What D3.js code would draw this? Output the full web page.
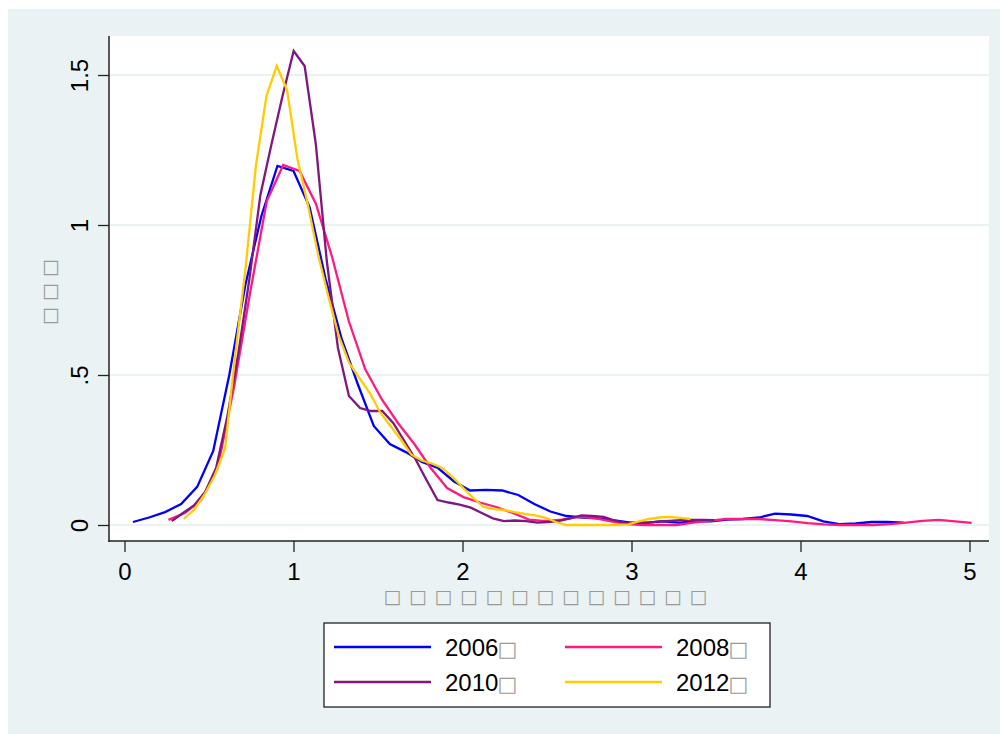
<!DOCTYPE html>
<html>
<head>
<meta charset="utf-8">
<script src="https://cdn.jsdelivr.net/npm/d3@7"></script>
<style>
  html, body { margin: 0; padding: 0; background: #ffffff; }
  svg { display: block; }
  text { font-family: "Liberation Sans", Arial, sans-serif; }
</style>
</head>
<body>
<svg id="chart" width="1006" height="734"></svg>
<script>
// ---- data ----
const xTicks = [0, 1, 2, 3, 4, 5];
const xTickLabels = ["0", "1", "2", "3", "4", "5"];
const yTicks = [0, 0.5, 1, 1.5];
const yTickLabels = ["0", ".5", "1", "1.5"];
const seriesNames = ["2006\u25A1", "2008\u25A1", "2010\u25A1", "2012\u25A1"];
const seriesColors = ["#0000ff", "#ff1a80", "#80167f", "#ffcc00"];
const yTitle = "\u25A1\u25A1\u25A1";
const xTitle = "\u25A1\u25A1\u25A1\u25A1\u25A1\u25A1\u25A1\u25A1\u25A1\u25A1\u25A1\u25A1\u25A1";

const x2006 = [0.05,0.145,0.24,0.335,0.43,0.525,0.62,0.715,0.81,0.905,1.0,1.095,1.19,1.285,1.38,1.475,1.57,1.665,1.76,1.855,1.95,2.045,2.14,2.235,2.33,2.425,2.52,2.615,2.71,2.805,2.9,2.995,3.09,3.185,3.28,3.375,3.47,3.565,3.66,3.755,3.85,3.945,4.04,4.135,4.23,4.325,4.42,4.515,4.61];
const d2006 = [0.01,0.025,0.043,0.07,0.127,0.247,0.50,0.80,1.03,1.197,1.18,1.06,0.82,0.62,0.47,0.33,0.27,0.243,0.21,0.19,0.145,0.115,0.117,0.115,0.10,0.07,0.045,0.03,0.025,0.022,0.015,0.008,0.008,0.012,0.008,0.012,0.012,0.018,0.02,0.025,0.038,0.035,0.03,0.012,0.003,0.005,0.01,0.01,0.008];

const x2008 = [0.26,0.357,0.454,0.551,0.648,0.745,0.842,0.939,1.036,1.133,1.23,1.327,1.424,1.521,1.618,1.715,1.812,1.909,2.006,2.103,2.2,2.297,2.394,2.491,2.588,2.685,2.782,2.879,2.976,3.073,3.17,3.267,3.364,3.461,3.558,3.655,3.752,3.849,3.946,4.043,4.14,4.237,4.334,4.431,4.528,4.625,4.722,4.819,4.916,5.013];
const d2008 = [0.017,0.04,0.083,0.19,0.46,0.78,1.08,1.2,1.18,1.07,0.89,0.68,0.52,0.42,0.34,0.27,0.19,0.123,0.093,0.075,0.06,0.04,0.018,0.013,0.018,0.027,0.023,0.012,0.003,0.0,0.0,0.0,0.008,0.014,0.02,0.02,0.02,0.016,0.012,0.006,0.002,0.0,0.0,0.0,0.003,0.008,0.014,0.017,0.012,0.007];

const x2010 = [0.28,0.346,0.411,0.477,0.542,0.608,0.673,0.739,0.804,0.870,0.935,1.001,1.066,1.132,1.197,1.263,1.328,1.394,1.459,1.525,1.590,1.656,1.721,1.787,1.852,1.918,1.983,2.049,2.114,2.180,2.245,2.311,2.376,2.442,2.507,2.573,2.638,2.704,2.769,2.835,2.900,2.966,3.031,3.097,3.162,3.228,3.293,3.359,3.424,3.490];
const d2010 = [0.013,0.04,0.065,0.11,0.19,0.36,0.57,0.82,1.1,1.27,1.43,1.58,1.53,1.27,0.88,0.59,0.43,0.39,0.38,0.38,0.34,0.28,0.22,0.15,0.083,0.075,0.068,0.058,0.04,0.022,0.013,0.015,0.013,0.008,0.01,0.014,0.022,0.032,0.03,0.027,0.015,0.007,0.007,0.007,0.012,0.014,0.016,0.017,0.017,0.016];

const x2012 = [0.35,0.411,0.472,0.534,0.595,0.656,0.717,0.778,0.840,0.901,0.962,1.023,1.084,1.146,1.207,1.268,1.329,1.390,1.452,1.513,1.574,1.635,1.696,1.758,1.819,1.880,1.941,2.002,2.064,2.125,2.186,2.247,2.308,2.370,2.431,2.492,2.553,2.614,2.676,2.737,2.798,2.859,2.920,2.982,3.043,3.104,3.165,3.226,3.288,3.349];
const d2012 = [0.02,0.05,0.1,0.165,0.255,0.57,0.86,1.2,1.43,1.53,1.45,1.22,1.07,0.9,0.76,0.63,0.54,0.49,0.44,0.375,0.33,0.285,0.235,0.215,0.205,0.19,0.16,0.125,0.09,0.06,0.053,0.05,0.043,0.037,0.032,0.024,0.01,0.0,0.0,0.0,0.0,0.0,0.0,0.002,0.012,0.02,0.025,0.027,0.024,0.02];

const seriesX = [x2006, x2008, x2010, x2012];
const seriesD = [d2006, d2008, d2010, d2012];

// ---- drawing ----
const svg = d3.select("#chart");
const bg = "#eaf2f3";

svg.append("rect").attr("x", 8).attr("y", 9).attr("width", 992).attr("height", 725).attr("fill", bg);

const plot = { left: 109, right: 989, top: 36, bottom: 541 };
svg.append("rect").attr("x", plot.left).attr("y", plot.top)
  .attr("width", plot.right - plot.left).attr("height", plot.bottom - plot.top)
  .attr("fill", "#ffffff");

const x = d3.scaleLinear().domain([0, 5]).range([124.5, 969.5]);
const y = d3.scaleLinear().domain([0, 1.5]).range([525, 75]);

// gridlines
svg.append("g").selectAll("line").data(yTicks).join("line")
  .attr("x1", plot.left).attr("x2", plot.right)
  .attr("y1", d => y(d)).attr("y2", d => y(d))
  .attr("stroke", bg).attr("stroke-width", 2);

// series lines
const line = d3.line().x(d => x(d[0])).y(d => y(d[1]));
seriesX.forEach((xs, i) => {
  const pts = xs.map((v, j) => [v, seriesD[i][j]]);
  svg.append("path").datum(pts)
    .attr("d", line)
    .attr("fill", "none")
    .attr("stroke", seriesColors[i])
    .attr("stroke-width", 2.3)
    .attr("stroke-linejoin", "miter");
});

// y axis
const yAxis = d3.axisLeft(y).tickValues(yTicks).tickSize(11)
  .tickFormat((d, i) => yTickLabels[i]);
const gy = svg.append("g").attr("transform", `translate(${plot.left},0)`).call(yAxis);
gy.select(".domain").remove();
gy.selectAll(".tick line").attr("stroke", "#222").attr("stroke-width", 1.3);
gy.selectAll(".tick text")
  .attr("x", null).attr("dy", null)
  .attr("transform", "translate(-21,0) rotate(-90)")
  .attr("text-anchor", "middle")
  .attr("font-size", 24).attr("fill", "#000")
  .style("font-family", "Liberation Sans, Arial, sans-serif");
svg.append("line").attr("x1", plot.left).attr("x2", plot.left)
  .attr("y1", plot.top).attr("y2", plot.bottom + 1)
  .attr("stroke", "#222").attr("stroke-width", 1.5);

// x axis
const xAxis = d3.axisBottom(x).tickValues(xTicks).tickSize(11)
  .tickFormat((d, i) => xTickLabels[i]);
const gx = svg.append("g").attr("transform", `translate(0,${plot.bottom})`).call(xAxis);
gx.select(".domain").remove();
gx.selectAll(".tick line").attr("stroke", "#222").attr("stroke-width", 1.3);
gx.selectAll(".tick text")
  .attr("y", 39).attr("dy", null)
  .attr("font-size", 24).attr("fill", "#000")
  .style("font-family", "Liberation Sans, Arial, sans-serif");
svg.append("line").attr("x1", plot.left - 0.5).attr("x2", plot.right)
  .attr("y1", plot.bottom).attr("y2", plot.bottom)
  .attr("stroke", "#222").attr("stroke-width", 1.5);

// axis titles (glyph boxes as in the reference)
svg.append("text")
  .attr("transform", "translate(56,292) rotate(-90)")
  .attr("text-anchor", "middle")
  .attr("font-size", 19).attr("fill", "#9a9a9a")
  .style("font-family", "DejaVu Sans, sans-serif")
  .attr("textLength", 66).attr("lengthAdjust", "spacing")
  .text(yTitle);
svg.append("text")
  .attr("x", 545.5).attr("y", 603)
  .attr("text-anchor", "middle")
  .attr("font-size", 19).attr("fill", "#9a9a9a")
  .style("font-family", "DejaVu Sans, sans-serif")
  .attr("textLength", 324).attr("lengthAdjust", "spacing")
  .text(xTitle);

// legend
const lg = svg.append("g");
lg.append("rect").attr("x", 324).attr("y", 623).attr("width", 446).attr("height", 84)
  .attr("fill", "#fff").attr("stroke", "#222").attr("stroke-width", 1.3);
const legendPos = [[334, 647], [565, 647], [334, 682], [565, 682]];
seriesNames.forEach((name, i) => {
  const [lx, ly] = legendPos[i];
  lg.append("line").attr("x1", lx).attr("x2", lx + 97).attr("y1", ly).attr("y2", ly)
    .attr("stroke", seriesColors[i]).attr("stroke-width", 2.3);
  const t = lg.append("text").attr("x", lx + 111).attr("y", ly + 9)
    .attr("font-size", 24).attr("fill", "#000");
  t.append("tspan").text(name.slice(0, 4));
  t.append("tspan").attr("font-size", 21).attr("fill", "#9a9a9a").attr("dx", -1)
    .style("font-family", "DejaVu Sans, sans-serif").text(name.slice(4));
});
</script>
</body>
</html>
